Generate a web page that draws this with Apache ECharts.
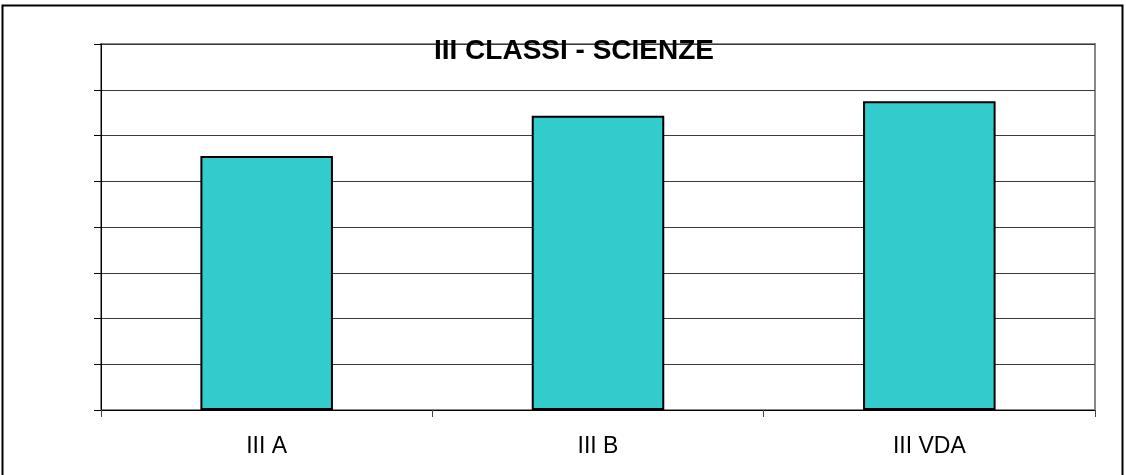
<!DOCTYPE html>
<html>
<head>
<meta charset="utf-8">
<script src="https://cdn.jsdelivr.net/npm/echarts@6/dist/echarts.min.js"></script>
<style>
html,body{margin:0;padding:0;background:#fff;}
#chart{width:1126px;height:475px;}
</style>
</head>
<body>
<div id="chart"></div>
<script>
// dati
var classi = ["III A", "III B", "III VDA"];
var valori = [5.55, 6.43, 6.75];
var yMin = 0, yMax = 8, yStep = 1;

var chart = echarts.init(document.getElementById("chart"));
var option = {
	animation: false,
	backgroundColor: "#fff",
	title: {
		text: "III CLASSI - SCIENZE",
		left: 569,
		textAlign: "center",
		top: 32,
		textStyle: {
			fontFamily: "Liberation Sans, Arial, sans-serif",
			fontSize: 28,
			fontWeight: "bold",
			color: "#000"
		}
	},
	graphic: [{
		type: "rect",
		shape: {x: 2.5, y: 5.5, width: 1120, height: 480},
		style: {fill: "none", stroke: "#000", lineWidth: 2},
		silent: true
	}],
	grid: {
		left: 101, right: 31, top: 44, bottom: 65,
		show: true,
		borderColor: "#888",
		borderWidth: 2
	},
	xAxis: {
		type: "category",
		data: classi,
		axisLine: {lineStyle: {color: "#000", width: 1}},
		axisTick: {show: true, length: 7, alignWithLabel: false, lineStyle: {color: "#444"}},
		axisLabel: {
			margin: 25,
			color: "#000",
			fontSize: 23,
			fontFamily: "Liberation Sans, Arial, sans-serif"
		}
	},
	yAxis: {
		type: "value",
		min: yMin, max: yMax, interval: yStep,
		axisLine: {show: true, lineStyle: {color: "#000", width: 1}},
		axisTick: {show: true, length: 7, inside: false, lineStyle: {color: "#000"}},
		axisLabel: {show: false},
		splitLine: {show: true, lineStyle: {color: "#3a3a3a", width: 1}}
	},
	series: [{
		type: "bar",
		data: valori,
		barCategoryGap: "60%",
		itemStyle: {color: "#33CCCC", borderColor: "#000", borderWidth: 2}
	}]
};
chart.setOption(option);
</script>
</body>
</html>
